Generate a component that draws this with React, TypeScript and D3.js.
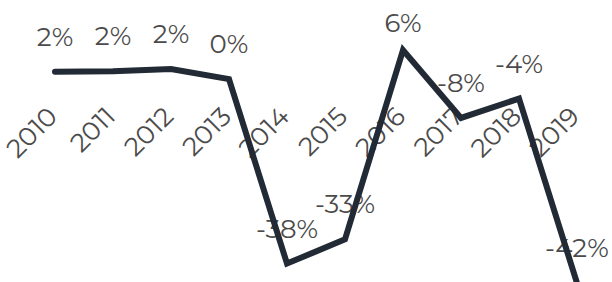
import React, { useRef, useEffect } from 'react';
import * as d3 from 'd3';

const years = ['2010', '2011', '2012', '2013', '2014', '2015', '2016', '2017', '2018', '2019'];
const changes = [1.5, 1.6, 2.1, 0, -38, -33, 6, -8, -4, -42];

const App: React.FC = () => {
  const svgRef = useRef<SVGSVGElement>(null);

  useEffect(() => {
    if (!svgRef.current) return;
    const svg = d3.select(svgRef.current);
    svg.selectAll('*').remove();

    const width = 612;
    const height = 282;
    const font = "Montserrat, 'Noto Sans', sans-serif";

    const x = d3.scalePoint<string>().domain(years).range([55, 577]);
    const y = d3.scaleLinear()
      .domain([d3.min(changes) as number, d3.max(changes) as number])
      .range([283, 50]);

    svg.attr('width', width).attr('height', height);

    // 年ラベル（-45度）
    svg.append('g')
      .selectAll('text')
      .data(years)
      .join('text')
      .attr('transform', (d) => `translate(${(x(d) as number) + 4}, 118) rotate(-45)`)
      .attr('text-anchor', 'end')
      .attr('font-family', font)
      .attr('font-size', 26)
      .attr('fill', '#4b4b4b')
      .text((d) => d);

    // 値ラベル（上端で止める）
    svg.append('g')
      .selectAll('text')
      .data(changes)
      .join('text')
      .attr('x', (_, i) => x(years[i]) as number)
      .attr('y', (d) => Math.max(y(d) - 26, 32))
      .attr('text-anchor', 'middle')
      .attr('font-family', font)
      .attr('font-size', 26)
      .attr('fill', '#4b4b4b')
      .text((d) => `${Math.round(d)}%`);

    const line = d3.line<number>()
      .x((_, i) => x(years[i]) as number)
      .y((d) => y(d));

    svg.append('path')
      .datum(changes)
      .attr('d', line)
      .attr('fill', 'none')
      .attr('stroke', '#222a35')
      .attr('stroke-width', 6)
      .attr('stroke-linecap', 'round')
      .attr('stroke-linejoin', 'miter');
  }, []);

  return (
    <div style={{ position: 'absolute', left: 0, top: 0, width: 612, height: 282, overflow: 'hidden', background: '#fff' }}>
      <svg ref={svgRef} style={{ display: 'block' }} />
    </div>
  );
};

export default App;
